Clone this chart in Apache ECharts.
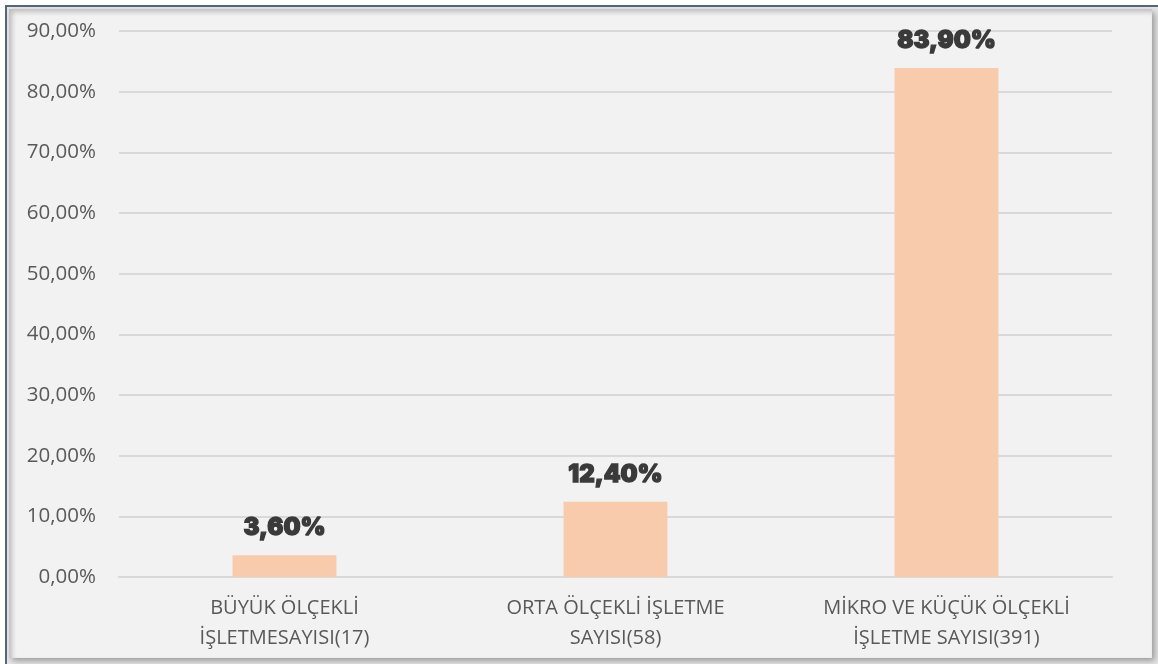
<!DOCTYPE html>
<html>
<head>
    <meta charset="utf-8">
    <title>ECharts</title>
    <script src="https://cdn.jsdelivr.net/npm/echarts@6/dist/echarts.min.js"></script>
    <style>
        html, body { margin: 0; padding: 0; background: #ffffff; }
        #frame {
            position: absolute; left: 5px; top: 5px; width: 1153px; height: 659px;
            border-top: 2px solid #56667f; border-left: 2px solid #56667f;
            box-sizing: border-box; background: #e6e6e6;
        }
        #panel {
            position: absolute; left: 2px; top: 2px; width: 1143px; height: 649px;
            background: #f2f2f2;
            box-shadow: inset 3px 3px 5px rgba(0,0,0,0.22), 3px 3px 6px rgba(0,0,0,0.32);
        }
        #container { position: absolute; left: 0; top: 0; width: 1158px; height: 664px; }
    </style>
</head>
<body>
    <div id="frame"><div id="panel"></div></div>
    <!-- grafik alanı -->
    <div id="container"></div>
    <script type="text/javascript">

        var categories = [
            'BÜYÜK ÖLÇEKLİ\nİŞLETMESAYISI(17)',
            'ORTA ÖLÇEKLİ İŞLETME\nSAYISI(58)',
            'MİKRO VE KÜÇÜK ÖLÇEKLİ\nİŞLETME SAYISI(391)'
        ];
        var values = [3.6, 12.4, 83.9];
        var yTicks = [0, 10, 20, 30, 40, 50, 60, 70, 80, 90];

        function pct(v) {
            return v.toFixed(2).replace('.', ',') + '%';
        }

        var dom = document.getElementById("container");
        var myChart = echarts.init(dom);

        var option = {
            animation: false,
            grid: { left: 119, right: 46, top: 31, bottom: 87 },
            xAxis: {
                type: 'category',
                data: categories,
                axisLine: { show: true, lineStyle: { color: '#d9d9d9', width: 2 } },
                axisTick: { show: false },
                axisLabel: {
                    color: '#595959',
                    fontFamily: 'Open Sans',
                    fontSize: 20,
                    lineHeight: 30,
                    margin: 16,
                    interval: 0
                }
            },
            yAxis: {
                type: 'value',
                min: yTicks[0],
                max: yTicks[yTicks.length - 1],
                interval: 10,
                axisLine: { show: false },
                axisTick: { show: false },
                splitLine: { lineStyle: { color: '#d9d9d9', width: 2 } },
                axisLabel: {
                    color: '#595959',
                    fontFamily: 'Open Sans',
                    fontSize: 20.5,
                    margin: 23,
                    formatter: function (v) { return pct(v); }
                }
            },
            series: [
                {
                    type: 'bar',
                    data: values,
                    barWidth: '31.4%',
                    itemStyle: { color: '#f8cbad' },
                    label: {
                        show: true,
                        position: 'top',
                        distance: 15,
                        color: '#3a3a3a',
                        fontFamily: 'Inter',
                        fontWeight: 900,
                        fontSize: 24,
                        textBorderColor: '#3a3a3a',
                        textBorderWidth: 1.3,
                        formatter: function (p) { return pct(p.value); }
                    }
                }
            ]
        };
        myChart.setOption(option);

</script>
</body>
</html>
